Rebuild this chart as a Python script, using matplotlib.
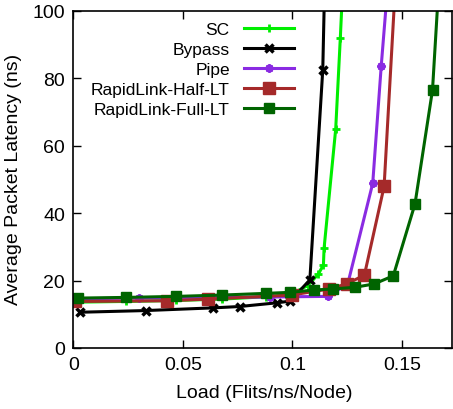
import matplotlib
matplotlib.use("Agg")
import matplotlib.pyplot as plt

plt.rcParams['font.family'] = ['Liberation Sans', 'DejaVu Sans']

sc_x = [0.002, 0.024, 0.047, 0.068, 0.088, 0.099, 0.107, 0.1119, 0.1142, 0.1145, 0.1198, 0.1219, 0.1235]
sc_y = [13.6, 13.8, 14.1, 14.5, 15.2, 15.8, 18.5, 21.9, 24.7, 29.6, 64.9, 91.8, 114]

bypass_x = [0.003, 0.033, 0.064, 0.076, 0.093, 0.099, 0.108, 0.1139, 0.115]
bypass_y = [10.6, 11.1, 11.9, 12.3, 13.4, 13.9, 20.2, 82.5, 115]

pipe_x = [0.002, 0.03, 0.06, 0.09, 0.1, 0.1164, 0.1253, 0.1367, 0.1406, 0.144]
pipe_y = [14.6, 14.8, 15.0, 15.1, 15.2, 15.3, 19.0, 48.8, 83.7, 111]

half_x = [0.001, 0.0426, 0.0617, 0.0997, 0.1168, 0.1248, 0.1329, 0.1419, 0.147]
half_y = [13.8, 14.0, 14.5, 15.7, 17.5, 19.0, 21.6, 47.9, 107]

full_x = [0.0023, 0.024, 0.047, 0.068, 0.088, 0.099, 0.110, 0.1187, 0.1286, 0.1374, 0.1461, 0.156, 0.164, 0.167]
full_y = [14.8, 15.0, 15.3, 15.7, 16.2, 16.5, 17.2, 17.5, 18.0, 19.0, 21.4, 42.7, 76.5, 109]

x_ticks = [0, 0.05, 0.1, 0.15]
x_labels = ["0", "0.05", "0.1", "0.15"]
y_ticks = [0, 20, 40, 60, 80, 100]

fig = plt.figure(figsize=(4.53, 4.10), dpi=100)
ax = fig.add_axes([73.3 / 453, 61 / 410, (452 - 73.3) / 453, (349 - 11.7) / 410])

lw = 2.2
ax.plot(sc_x, sc_y, color="#00ee00", lw=lw, marker="+", ms=6, mew=2, label="SC")
ax.plot(bypass_x, bypass_y, color="black", lw=lw, marker="x", ms=6, mew=2.5, label="Bypass")
ax.plot(pipe_x, pipe_y, color="#8a2be2", lw=lw, marker=(8, 2, 0), ms=6, mew=1.6, label="Pipe")
ax.plot(half_x, half_y, color="#a52a2a", lw=lw, marker="s", ms=8.5, label="RapidLink-Half-LT")
ax.plot(full_x, full_y, color="#006400", lw=lw, marker="s", ms=6.5, label="RapidLink-Full-LT")

ax.set_xlim(0, 0.1729)
ax.set_ylim(0, 100)
ax.set_xticks(x_ticks)
ax.set_xticklabels(x_labels)
ax.set_yticks(y_ticks)
ax.tick_params(direction="in", length=6, width=1, labelsize=14, top=True, right=True, pad=6)
for s in ax.spines.values():
    s.set_linewidth(1.2)

ax.set_xlabel("Load (Flits/ns/Node)", fontsize=14)
ax.set_ylabel("Average Packet Latency (ns)", fontsize=14)
ax.xaxis.set_label_coords(0.505, -0.108)
ax.yaxis.set_label_coords(-0.1355, 0.5025)

leg = ax.legend(loc="upper right", bbox_to_anchor=(294 / 453, 0.945),
                bbox_transform=fig.transFigure, frameon=False, markerfirst=False,
                fontsize=12.5, handlelength=2.9, handletextpad=0.8,
                labelspacing=0.28, borderpad=0, borderaxespad=0)
for t in leg.get_texts():
    t.set_ha("right")

fig.savefig("out.png", dpi=100)
